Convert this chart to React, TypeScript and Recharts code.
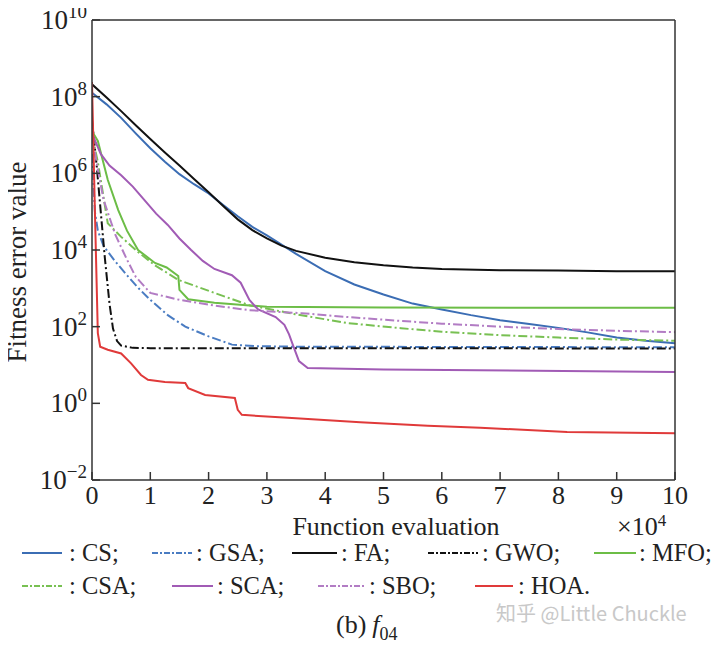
import { Line, LineChart, XAxis, YAxis } from 'recharts'

// x is in units of 10^4 function evaluations, y is the fitness error value
const csX = [0, 0.25, 0.5, 0.75, 1, 1.25, 1.5, 1.75, 2, 2.25, 2.5, 2.75, 3, 3.5, 4, 4.5, 5, 5.5, 6, 6.5, 7, 7.5, 8, 8.5, 9, 9.5, 10]
const csY = [1.26e8, 6.3e7, 2.8e7, 1.1e7, 4.5e6, 2.0e6, 9.5e5, 5.2e5, 3.0e5, 1.5e5, 7.6e4, 4.0e4, 2.4e4, 7.9e3, 2.8e3, 1.26e3, 690, 400, 282, 200, 148, 117, 93, 71, 52, 43, 37]

const gsaX = [0, 0.05, 0.1, 0.2, 0.4, 0.6, 0.8, 1, 1.3, 1.6, 2, 2.4, 2.8, 3.5, 10]
const gsaY = [3.2e6, 1e5, 3.2e4, 1.26e4, 5e3, 2.2e3, 1e3, 500, 200, 100, 56, 34, 31, 30, 29]

const faX = [0, 0.25, 0.5, 0.75, 1, 1.25, 1.5, 1.75, 2, 2.25, 2.5, 2.75, 3, 3.25, 3.5, 4, 4.5, 5, 5.5, 6, 7, 8, 9, 10]
const faY = [2.1e8, 9.5e7, 4.2e7, 1.8e7, 7.9e6, 3.5e6, 1.6e6, 7.1e5, 3.2e5, 1.4e5, 6.3e4, 3.3e4, 2.0e4, 1.3e4, 9.5e3, 6.3e3, 4.8e3, 4.0e3, 3.5e3, 3.2e3, 2.95e3, 2.9e3, 2.8e3, 2.8e3]

const gwoX = [0, 0.08, 0.15, 0.22, 0.3, 0.36, 0.43, 0.5, 0.7, 1, 10]
const gwoY = [2.5e7, 1.6e6, 1e5, 6.3e3, 400, 89, 42, 32, 28, 27.5, 27]

const mfoX = [0, 0.1, 0.27, 0.45, 0.6, 0.79, 1.08, 1.28, 1.48, 1.5, 1.65, 2.1, 3, 5, 10]
const mfoY = [1.26e7, 7e6, 6.8e5, 1.1e5, 3.2e4, 1e4, 4.6e3, 3.5e3, 2.1e3, 910, 520, 420, 330, 316, 310]

const csaX = [0, 0.1, 0.27, 0.5, 0.79, 1.08, 1.48, 2.1, 2.7, 3.5, 4.4, 5.3, 6, 7, 8, 9, 10]
const csaY = [1e7, 2e6, 5e4, 2.2e4, 8.9e3, 4e3, 1.66e3, 760, 363, 209, 123, 91, 74, 60, 52, 46, 43]

const scaX = [0, 0.15, 0.3, 0.5, 0.7, 0.9, 1.1, 1.3, 1.5, 1.7, 1.9, 2.1, 2.4, 2.55, 2.7, 2.85, 3.15, 3.3, 3.38, 3.45, 3.55, 3.7, 5, 10]
const scaY = [1.1e7, 3.2e6, 1.6e6, 8.9e5, 4.5e5, 2e5, 8.9e4, 4.5e4, 2e4, 1e4, 5.2e3, 3.2e3, 2.2e3, 1.4e3, 500, 280, 178, 112, 63, 32, 12.6, 8.3, 7.6, 6.6]

const sboX = [0, 0.1, 0.2, 0.4, 0.6, 0.75, 1, 1.5, 2.1, 2.7, 3.6, 4.4, 5.3, 6, 7, 8, 9, 10]
const sboY = [1e7, 1.26e6, 2e5, 2.5e4, 5.6e3, 2e3, 760, 500, 355, 269, 224, 178, 141, 120, 100, 87, 78, 72]

const hoaX = [0, 0.05, 0.1, 0.14, 0.27, 0.5, 0.67, 0.84, 0.96, 1.25, 1.6, 1.65, 1.94, 2.45, 2.5, 2.57, 3.36, 4.6, 5.76, 6.66, 8.15, 10]
const hoaY = [2.4e8, 1e5, 68, 30, 25, 20, 11, 5.5, 4.1, 3.6, 3.4, 2.5, 1.66, 1.38, 0.68, 0.5, 0.42, 0.32, 0.26, 0.23, 0.18, 0.166]

const xTicks = [0, 1, 2, 3, 4, 5, 6, 7, 8, 9, 10]
const yTicks = [1e-2, 1, 1e2, 1e4, 1e6, 1e8, 1e10]

const DASHDOT = '9 3 2 3'
const SERIF = '"Liberation Serif", "DejaVu Serif", serif'

const series = [
	{ name: 'CS', x: csX, y: csY, color: '#3b6db4', dash: undefined },
	{ name: 'GSA', x: gsaX, y: gsaY, color: '#4a7cc2', dash: DASHDOT },
	{ name: 'FA', x: faX, y: faY, color: '#111111', dash: undefined },
	{ name: 'GWO', x: gwoX, y: gwoY, color: '#111111', dash: DASHDOT },
	{ name: 'MFO', x: mfoX, y: mfoY, color: '#6cbd46', dash: undefined },
	{ name: 'CSA', x: csaX, y: csaY, color: '#78c052', dash: DASHDOT },
	{ name: 'SCA', x: scaX, y: scaY, color: '#a15bb5', dash: undefined },
	{ name: 'SBO', x: sboX, y: sboY, color: '#b27cc4', dash: DASHDOT },
	{ name: 'HOA', x: hoaX, y: hoaY, color: '#e03a3a', dash: undefined },
]

// legend layout: [sample start, sample end, text x, row y]
const legendPos = [
	[22, 62, 69, 553],
	[152, 192, 196, 553],
	[292, 337, 341, 553],
	[428, 478, 482, 553],
	[594, 636, 639, 553],
	[22, 62, 69, 586],
	[172, 213, 217, 586],
	[318, 365, 369, 586],
	[475, 513, 518, 586],
]

const toPoints = (xs: number[], ys: number[]) => xs.map((x, i) => ({ x, v: ys[i] }))

const YTick = (props: any) => {
	const { x, y, payload } = props
	const e = Math.round(Math.log10(payload.value))
	return (
		<text x={x} y={y + 9} textAnchor="end" fontFamily={SERIF} fontSize={27} fill="#222">
			10
			<tspan dy={-11} fontSize={19}>
				{e < 0 ? '\u2212' + Math.abs(e) : e}
			</tspan>
		</text>
	)
}

const XTick = (props: any) => {
	const { x, y, payload } = props
	return (
		<text x={x} y={y + 16} textAnchor="middle" fontFamily={SERIF} fontSize={26} fill="#222">
			{payload.value}
		</text>
	)
}

const App = () => {
	return (
		<div style={{ position: 'relative', width: 720, height: 650, margin: -8, background: '#fff' }}>
			<LineChart width={720} height={520} margin={{ top: 19, right: 44, bottom: 0, left: 0 }}>
				<XAxis
					dataKey="x"
					type="number"
					domain={[0, 10]}
					ticks={xTicks}
					tickSize={-8}
					tickMargin={16}
					tick={<XTick />}
					height={40}
					stroke="#333"
					strokeWidth={1.5}
					allowDataOverflow
				/>
				<XAxis
					xAxisId="top"
					orientation="top"
					dataKey="x"
					type="number"
					domain={[0, 10]}
					ticks={xTicks}
					tickSize={-8}
					tick={false}
					height={1}
					stroke="#333"
					strokeWidth={1.5}
				/>
				<YAxis
					type="number"
					scale="log"
					domain={[1e-2, 1e10]}
					ticks={yTicks}
					tickSize={-8}
					tickMargin={13}
					tick={<YTick />}
					width={92}
					stroke="#333"
					strokeWidth={1.5}
					allowDataOverflow
				/>
				<YAxis
					yAxisId="right"
					orientation="right"
					type="number"
					scale="log"
					domain={[1e-2, 1e10]}
					ticks={yTicks}
					tickSize={-8}
					tick={false}
					width={1}
					stroke="#333"
					strokeWidth={1.5}
					allowDataOverflow
				/>
				{series.map((s) => (
					<Line
						key={s.name}
						data={toPoints(s.x, s.y)}
						dataKey="v"
						name={s.name}
						type="linear"
						stroke={s.color}
						strokeWidth={2}
						strokeDasharray={s.dash}
						dot={false}
						isAnimationActive={false}
					/>
				))}
			</LineChart>
			<svg width={720} height={650} style={{ position: 'absolute', left: 0, top: 0, pointerEvents: 'none' }}>
				<text
					transform="translate(26,262) rotate(-90)"
					textAnchor="middle"
					fontFamily={SERIF}
					fontSize={27}
					fill="#222"
				>
					Fitness error value
				</text>
				<text x={396} y={535} textAnchor="middle" fontFamily={SERIF} fontSize={26} fill="#222">
					Function evaluation
				</text>
				<text x={617} y={535} fontFamily={SERIF} fontSize={26} fill="#222">
					×10
					<tspan dy={-9} fontSize={17}>
						4
					</tspan>
				</text>
				{series.map((s, i) => {
					const [x1, x2, tx, ry] = legendPos[i]
					return (
						<g key={s.name}>
							<line x1={x1} x2={x2} y1={ry} y2={ry} stroke={s.color} strokeWidth={2} strokeDasharray={s.dash ? '6 2 2 2' : undefined} />
							<text x={tx} y={ry + 8} fontFamily={SERIF} fontSize={24.5} fill="#222">
								: {s.name}
								{i === series.length - 1 ? '.' : ';'}
							</text>
						</g>
					)
				})}
				<text x={496} y={621} fontFamily='"Noto Sans CJK SC", "Noto Sans", sans-serif' fontSize={20} fill="#c8c8c8">
					知乎 @Little Chuckle
				</text>
				<text x={336} y={633} fontFamily={SERIF} fontSize={26} fill="#222">
					(b)
					<tspan dx={6} fontStyle="italic">
						f
					</tspan>
					<tspan dy={7} fontSize={18}>
						04
					</tspan>
				</text>
			</svg>
		</div>
	)
}

export default App
